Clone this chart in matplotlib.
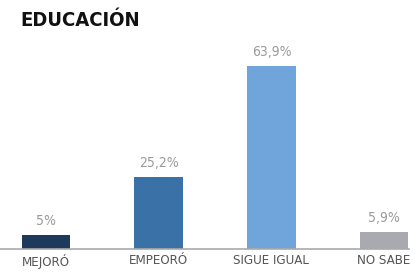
import matplotlib.pyplot as plt
from matplotlib import font_manager

categories = ['MEJORÓ', 'EMPEORÓ', 'SIGUE IGUAL', 'NO SABE']
values = [5.0, 25.2, 63.9, 5.9]
value_labels = ['5%', '25,2%', '63,9%', '5,9%']
colors = ['#1d3a5c', '#3a72a8', '#6fa5db', '#a9aab1']

# use the condensed DejaVu cut if there is one
cond = [f for f in font_manager.fontManager.ttflist
        if f.name == 'DejaVu Sans' and 'ondensed' in f.fname]
stretch = 'condensed' if cond else 'normal'

fig = plt.figure(figsize=(4.15, 2.76), dpi=100)
ax = fig.add_axes([0, 0.0978, 1, 0.757])

x = range(len(categories))
ax.bar(x, values, width=0.43, color=colors)
for i, (v, lab) in enumerate(zip(values, value_labels)):
    ax.annotate(lab, (i, v), xytext=(0, 5), textcoords='offset points',
                ha='center', va='bottom', color='#9a9a9a',
                fontsize=10, fontstretch=stretch)

ax.set_xlim(-0.408, 3.274)
ax.set_ylim(0, 72.9)
ax.set_xticks(list(x))
ax.set_xticklabels(categories, fontsize=9.5, color='#555555',
                   fontstretch=stretch)
ax.tick_params(axis='x', length=0, pad=3.5)
ax.set_yticks([])
for s in ['top', 'left', 'right']:
    ax.spines[s].set_visible(False)
ax.spines['bottom'].set_color('#aaaaaa')
ax.spines['bottom'].set_linewidth(1.2)
ax.spines['bottom'].set_bounds(-0.408, 3.22)

fig.text(0.048, 0.925, 'EDUCACIÓN', fontweight='bold', fontstretch=stretch,
         fontsize=14.5, va='center', ha='left', color='#111111')

fig.savefig('out.png', dpi=100)
